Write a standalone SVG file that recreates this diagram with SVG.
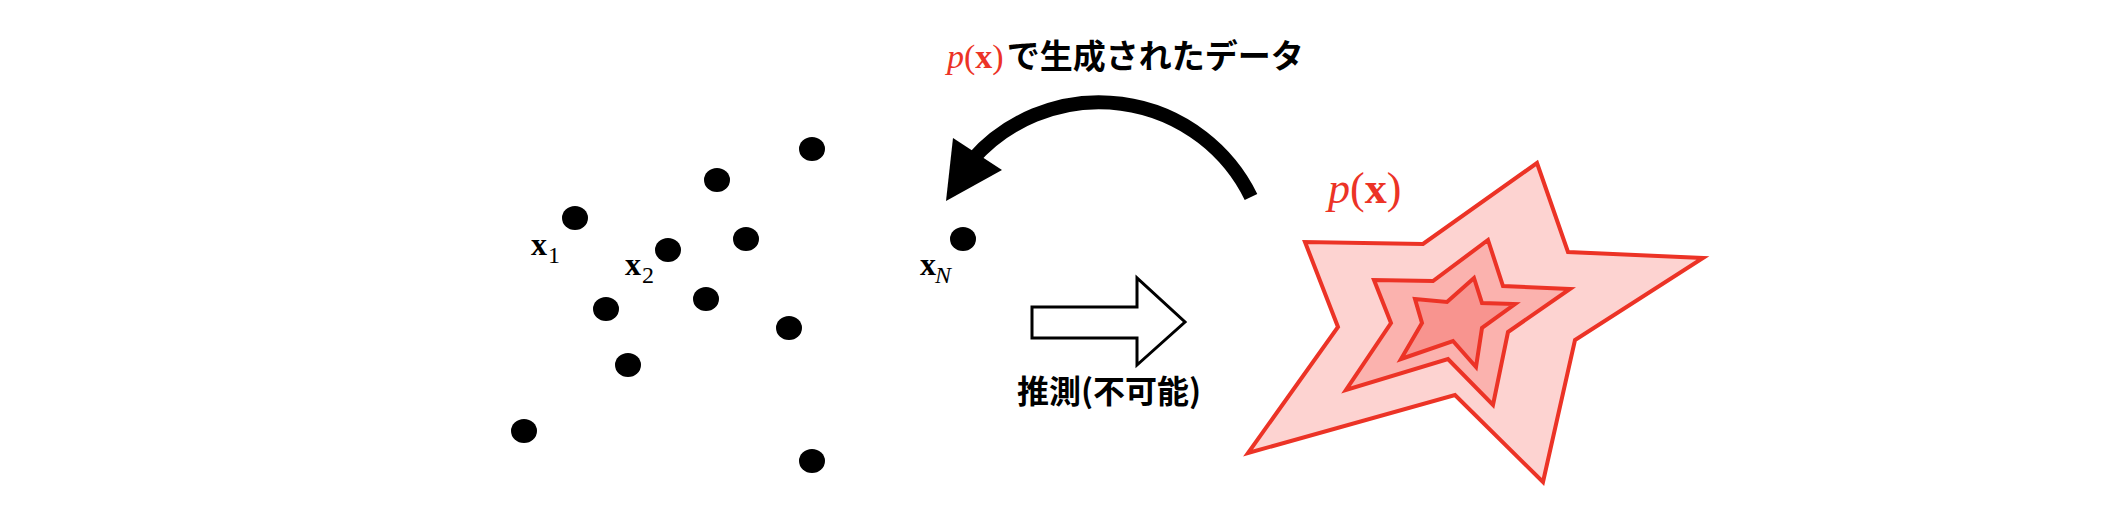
<svg xmlns="http://www.w3.org/2000/svg" width="2126" height="518" viewBox="0 0 2126 518">
<style>
.dot{fill:#000}
.math{font-family:"Liberation Serif","Times New Roman",serif}
.jp{font-family:"Noto Sans CJK JP","Noto Sans",sans-serif;font-weight:bold;fill:#000}
.red{fill:#EC3326}
.star{stroke:#EC3326;stroke-width:4;stroke-linejoin:miter}
</style>
<rect width="2126" height="518" fill="#fff"/>
<g id="data-points">
<ellipse class="dot" cx="812" cy="149" rx="13" ry="12"/>
<ellipse class="dot" cx="717" cy="180" rx="13" ry="12"/>
<ellipse class="dot" cx="575" cy="218" rx="13" ry="12"/>
<ellipse class="dot" cx="746" cy="239" rx="13" ry="12"/>
<ellipse class="dot" cx="668" cy="250" rx="13" ry="12"/>
<ellipse class="dot" cx="963" cy="239" rx="13" ry="12"/>
<ellipse class="dot" cx="606" cy="309" rx="13" ry="12"/>
<ellipse class="dot" cx="706" cy="299" rx="13" ry="12"/>
<ellipse class="dot" cx="789" cy="328" rx="13" ry="12"/>
<ellipse class="dot" cx="628" cy="365" rx="13" ry="12"/>
<ellipse class="dot" cx="524" cy="431" rx="13" ry="12"/>
<ellipse class="dot" cx="812" cy="461" rx="13" ry="12"/>
</g>
<g id="labels-x">
<text class="math" x="531" y="255" font-size="32" font-weight="bold">x</text>
<text class="math" x="548" y="263" font-size="24">1</text>
<text class="math" x="625" y="275" font-size="32" font-weight="bold">x</text>
<text class="math" x="642" y="283" font-size="24">2</text>
<text class="math" x="920" y="275" font-size="32" font-weight="bold">x</text>
<text class="math" x="935" y="283" font-size="24" font-style="italic">N</text>
</g>
<g id="connectors">
<path d="M 1251 197 A 169 169 0 0 0 972 160" fill="none" stroke="#000" stroke-width="14"/>
<polygon points="946,201 953,138 1002,170" fill="#000"/>
<polygon points="1032,307 1137,307 1137,278 1185,322 1137,365 1137,338 1032,338" fill="#fff" stroke="#000" stroke-width="3"/>
</g>
<g id="title">
<text x="947" y="68" font-size="34"><tspan class="math red" font-style="italic">p</tspan><tspan class="math red">(</tspan><tspan class="math red" font-weight="bold">x</tspan><tspan class="math red">)</tspan><tspan class="jp" font-size="33" dx="3">で生成されたデータ</tspan></text>
</g>
<g id="label-infer">
<text class="jp" x="1017" y="403" font-size="32">推測(不可能)</text>
</g>
<g id="distribution">
<polygon class="star" fill="#FDD3D1" points="1537,163 1568,252 1703,258 1575,340 1543,482 1455,395 1248,453 1338,327 1305,242 1423,244"/>
<polygon class="star" fill="#FBB2AE" points="1488,240 1503,286 1570,289 1508,332 1493,405 1448,359 1346,390 1391,323 1374,280 1433,281"/>
<polygon class="star" fill="#F8948F" points="1474,278 1482,303 1515,304 1482,328 1476,367 1453,341 1401,359 1422,323 1415,299 1447,302"/>
<text x="1328" y="203" font-size="44"><tspan class="math red" font-style="italic">p</tspan><tspan class="math red">(</tspan><tspan class="math red" font-weight="bold">x</tspan><tspan class="math red">)</tspan></text>
</g>
</svg>
